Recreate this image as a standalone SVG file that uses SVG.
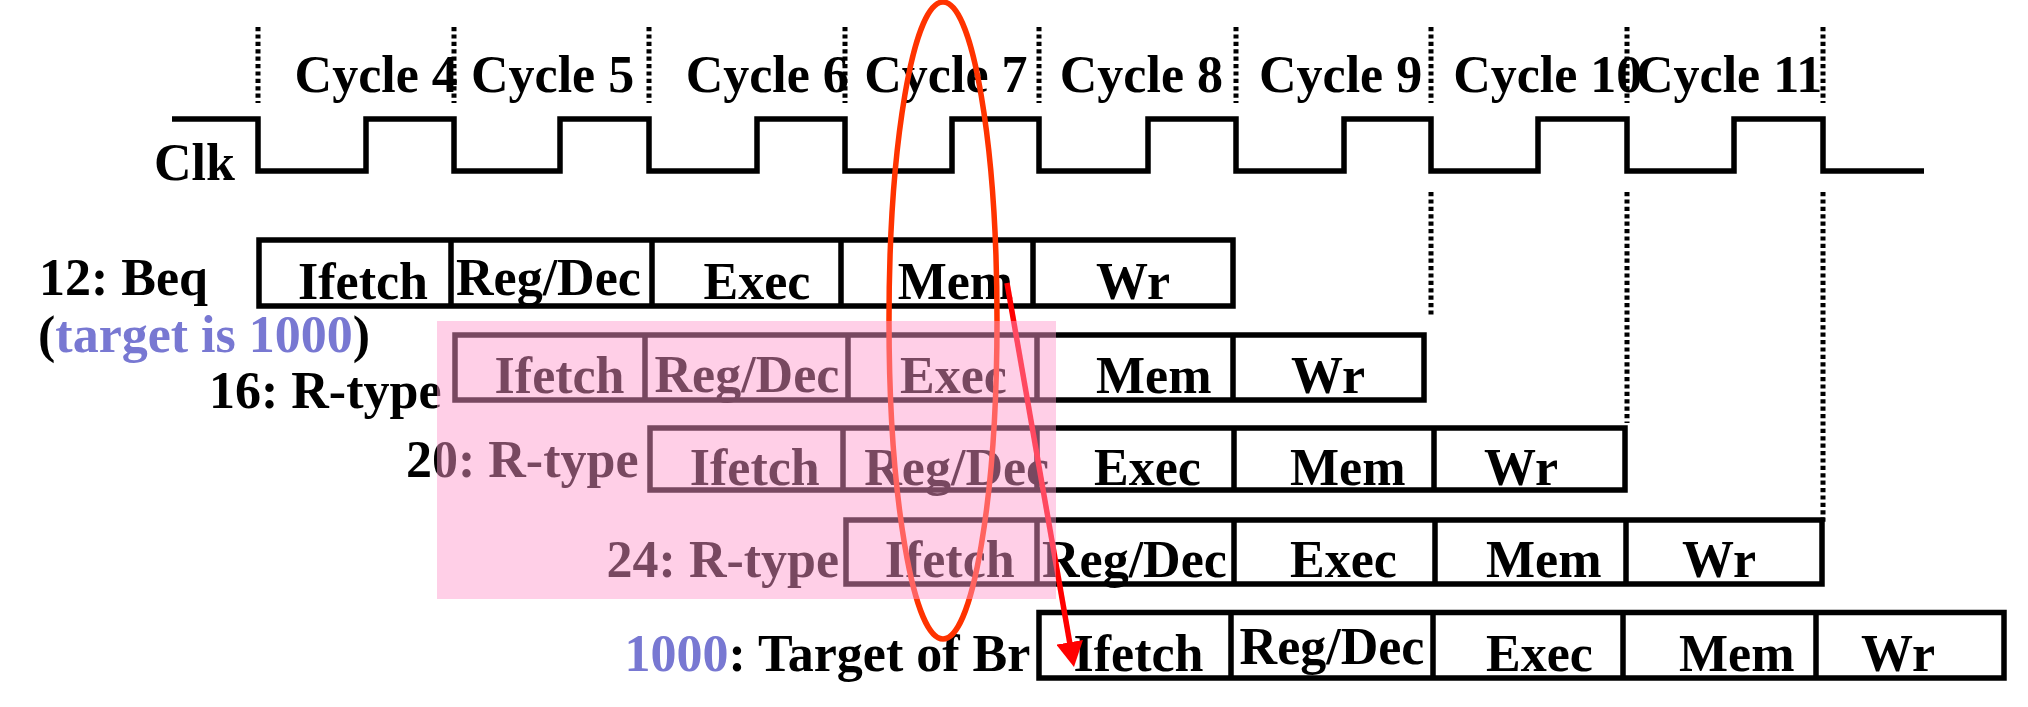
<svg xmlns="http://www.w3.org/2000/svg" width="2028" height="707" viewBox="0 0 2028 707">
<style>
text{font-family:"Liberation Serif","Times New Roman",serif;font-weight:bold;font-size:52px;fill:#000}
.blue{fill:#7878D2}
.cell{fill:none;stroke:#000;stroke-width:5.5}
.dot{stroke:#000;stroke-width:5;stroke-dasharray:4.2 3.2;fill:none}
.clk{fill:none;stroke:#000;stroke-width:5.5}
</style>
<defs>
<marker id="ah" viewBox="0 0 25 27" refX="10" refY="13.5" markerWidth="25" markerHeight="27" markerUnits="userSpaceOnUse" orient="auto">
<path d="M0,0 L25,13.5 L0,27 Z" fill="#FF0000"/>
</marker>
</defs>
<rect width="2028" height="707" fill="#fff"/>

<g id="cycles">
<text x="294.6" y="92">Cycle 4</text>
<text x="471" y="92">Cycle 5</text>
<text x="685.7" y="92">Cycle 6</text>
<text x="864.3" y="92">Cycle 7</text>
<text x="1059.8" y="92">Cycle 8</text>
<text x="1259" y="92">Cycle 9</text>
<text x="1453.2" y="92">Cycle 10</text>
<text x="1636" y="92">Cycle 11</text>
</g>

<g id="clock">
<text x="154" y="180">Clk</text>
<path class="clk" d="M172,119 H258 V171 H366 V119 H454 V171 H560 V119 H649 V171 H757 V119 H845 V171 H952 V119 H1039 V171 H1148 V119 H1236 V171 H1344 V119 H1431 V171 H1538 V119 H1627 V171 H1734 V119 H1823 V171 H1924"/>
</g>

<g id="gridlines">
<path class="dot" d="M258,27 V103 M454,27 V103 M649,27 V103 M845,27 V103 M1039,27 V103 M1236,27 V103 M1431,27 V103 M1627,27 V103 M1823,27 V103"/>
<path class="dot" d="M1431,192 V317 M1627,192 V423 M1823,192 V524"/>
</g>

<g id="i12">
<text x="39" y="295">12: Beq</text>
<text x="38" y="352">(<tspan class="blue">target is 1000</tspan>)</text>
<path class="cell" d="M259,240 H1233 V306 H259 Z M451,240 V306 M652,240 V306 M841,240 V306 M1033,240 V306"/>
<text x="298" y="299">Ifetch</text>
<text x="456" y="295">Reg/Dec</text>
<text x="703.6" y="299">Exec</text>
<text x="897.7" y="299">Mem</text>
<text x="1096" y="299">Wr</text>
</g>

<g id="i16">
<text x="209" y="408">16: R-type</text>
<path class="cell" d="M455,335 H1424 V400 H455 Z M645,335 V400 M848,335 V400 M1037,335 V400 M1233,335 V400"/>
<text x="494.6" y="393">Ifetch</text>
<text x="654.5" y="392">Reg/Dec</text>
<text x="900" y="393">Exec</text>
<text x="1096" y="393">Mem</text>
<text x="1291" y="393">Wr</text>
</g>

<g id="i20">
<text x="406" y="477">20: R-type</text>
<path class="cell" d="M650,428 H1625 V490 H650 Z M843,428 V490 M1037,428 V490 M1234,428 V490 M1434,428 V490"/>
<text x="689.8" y="485">Ifetch</text>
<text x="864.3" y="485">Reg/Dec</text>
<text x="1094" y="485">Exec</text>
<text x="1290" y="485">Mem</text>
<text x="1484" y="485">Wr</text>
</g>

<g id="i24">
<text x="606.6" y="577">24: R-type</text>
<path class="cell" d="M846,520 H1822 V584 H846 Z M1037,520 V584 M1234,520 V584 M1435,520 V584 M1626,520 V584"/>
<text x="884.7" y="577">Ifetch</text>
<text x="1042" y="577">Reg/Dec</text>
<text x="1290" y="577">Exec</text>
<text x="1486" y="577">Mem</text>
<text x="1682" y="577">Wr</text>
</g>

<g id="i1000">
<text x="624.5" y="671"><tspan class="blue">1000</tspan>: Target of Br</text>
<path class="cell" d="M1039,612.5 H2004 V678 H1039 Z M1231,612.5 V678 M1433,612.5 V678 M1623,612.5 V678 M1816,612.5 V678"/>
<text x="1073.5" y="671">Ifetch</text>
<text x="1239.6" y="664">Reg/Dec</text>
<text x="1486" y="671">Exec</text>
<text x="1679" y="671">Mem</text>
<text x="1861" y="671">Wr</text>
</g>

<g id="highlight">
<ellipse cx="943" cy="320.5" rx="54" ry="318.5" fill="none" stroke="#FF3300" stroke-width="5.5"/>
</g>

<g id="connectors">
<line x1="1007" y1="283" x2="1071.4" y2="652.2" stroke="#FF0000" stroke-width="5.5" marker-end="url(#ah)"/>
</g>

<rect id="bubble" x="437" y="321" width="619" height="278" fill="#FF99CC" opacity="0.47"/>
</svg>
